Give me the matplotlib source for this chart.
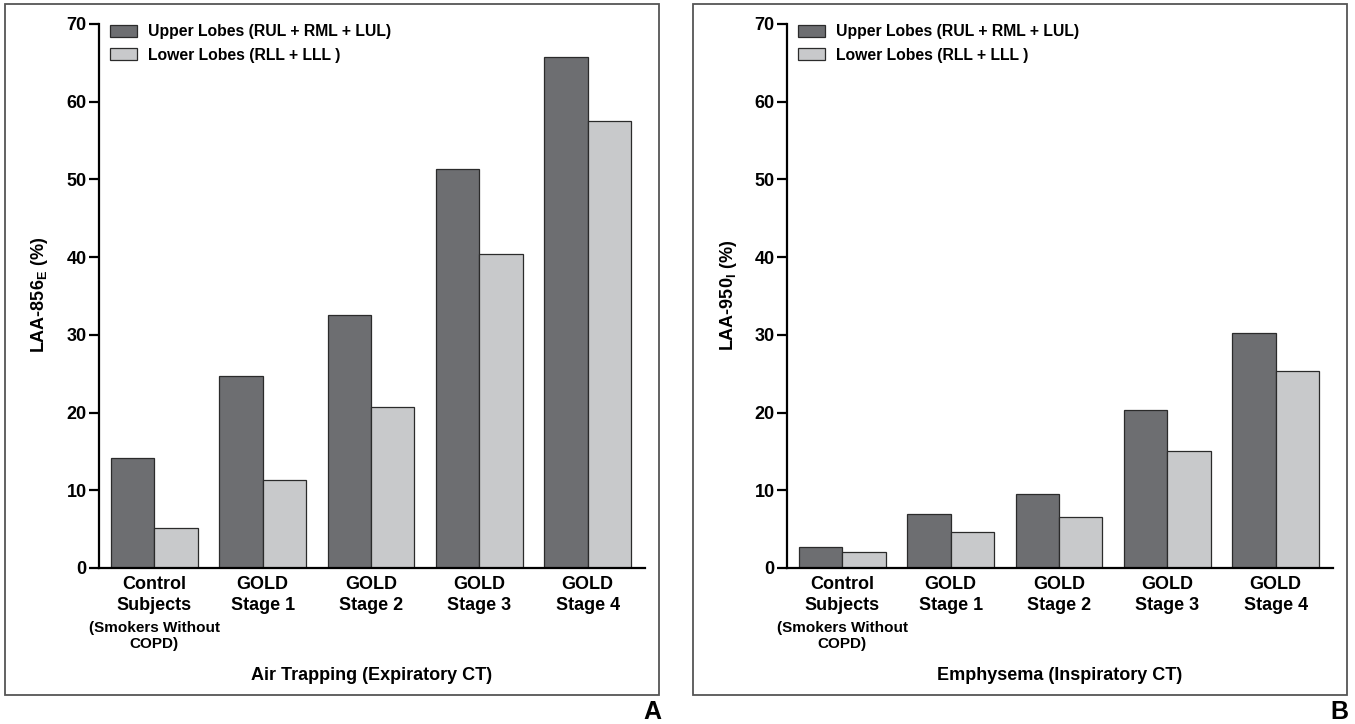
import matplotlib
matplotlib.use("Agg")
import matplotlib.pyplot as plt
import matplotlib.transforms as mtransforms
from matplotlib.patches import Rectangle, Patch
import numpy as np

plt.rcParams['font.family'] = ['Liberation Sans', 'DejaVu Sans']
plt.rcParams['font.weight'] = 'bold'
plt.rcParams['mathtext.fontset'] = 'custom'
plt.rcParams['mathtext.rm'] = 'Liberation Sans:bold'
plt.rcParams['mathtext.bf'] = 'Liberation Sans:bold'

categories = ["Control\nSubjects", "GOLD\nStage 1", "GOLD\nStage 2", "GOLD\nStage 3", "GOLD\nStage 4"]
control_note = "(Smokers Without\nCOPD)"
series_names = ["Upper Lobes (RUL + RML + LUL)", "Lower Lobes (RLL + LLL )"]

air_upper = [14.2, 24.7, 32.5, 51.3, 65.7]
air_lower = [5.2, 11.3, 20.7, 40.4, 57.5]
emph_upper = [2.7, 7.0, 9.5, 20.3, 30.2]
emph_lower = [2.1, 4.6, 6.5, 15.0, 25.3]

yticks = [0, 10, 20, 30, 40, 50, 60, 70]

dark = "#6d6e71"
light = "#c8c9cb"
edge = "#2b2b2b"

W, H = 1355, 724
fig = plt.figure(figsize=(W / 100, H / 100), dpi=100)

def fx(px):
    return px / W

def fy(py):
    return 1 - py / H

panels = [
    dict(left=99, right=645, upper=air_upper, lower=air_lower,
         ylabel=r"LAA-856$_{\mathregular{E}}$ (%)", xlabel="Air Trapping (Expiratory CT)",
         box=(5, 4, 659, 695), tag="A", tagx=652),
    dict(left=787, right=1333, upper=emph_upper, lower=emph_lower,
         ylabel=r"LAA-950$_{\mathregular{I}}$ (%)", xlabel="Emphysema (Inspiratory CT)",
         box=(693, 4, 1347, 695), tag="B", tagx=1339),
]

top_px, bot_px = 24, 568
bw = 0.4
for p in panels:
    x0, y0, x1, y1 = p["box"]
    fig.patches.append(Rectangle((fx(x0), fy(y1)), fx(x1 - x0), (y1 - y0) / H,
                                 transform=fig.transFigure, fill=False,
                                 edgecolor="#555555", linewidth=1.3))
    ax = fig.add_axes([fx(p["left"]), fy(bot_px), fx(p["right"] - p["left"]), (bot_px - top_px) / H])
    x = np.arange(len(categories))
    ax.bar(x - bw / 2, p["upper"], bw, color=dark, edgecolor=edge, linewidth=0.9,
           label=series_names[0])
    ax.bar(x + bw / 2, p["lower"], bw, color=light, edgecolor=edge, linewidth=0.9,
           label=series_names[1])
    ax.set_xlim(-0.51, 4.53)
    ax.set_ylim(0, 70)
    ax.set_yticks(yticks)
    ax.set_yticklabels([str(t) for t in yticks], fontsize=13, fontweight='bold')
    ax.set_xticks(x)
    ax.set_xticklabels(categories, fontsize=13, fontweight='bold', linespacing=1.3)
    ax.tick_params(axis='x', length=0, pad=6)
    ax.tick_params(axis='y', length=7, width=1.6, pad=2, direction='out')
    for s in ['top', 'right']:
        ax.spines[s].set_visible(False)
    for s in ['left', 'bottom']:
        ax.spines[s].set_linewidth(1.6)
    ax.text(0, fy(636), control_note,
            transform=mtransforms.blended_transform_factory(ax.transData, fig.transFigure),
            ha='center', va='center', fontsize=11, fontweight='bold', linespacing=1.2)
    fig.text(fx((p["left"] + p["right"]) / 2), fy(675), p["xlabel"], ha='center', va='center',
             fontsize=13, fontweight='bold')
    fig.text(fx(p["left"] - 59), fy(295), p["ylabel"], rotation=90, ha='center', va='center',
             fontsize=13, fontweight='bold')
    handles = [Patch(facecolor=dark, edgecolor=edge, linewidth=0.9),
               Patch(facecolor=light, edgecolor=edge, linewidth=0.9)]
    ax.legend(handles, series_names, loc='upper left',
              bbox_to_anchor=(fx(p["left"] + 11), fy(24)), bbox_transform=fig.transFigure,
              frameon=False, borderpad=0, borderaxespad=0,
              handlelength=1.75, handleheight=0.8, handletextpad=0.65, labelspacing=0.55,
              prop=dict(weight='bold', size=11.3))
    fig.text(fx(p["tagx"]), fy(712), p["tag"], ha='center', va='center', fontsize=18,
             fontweight='bold')

fig.savefig("out.png", dpi=100)
